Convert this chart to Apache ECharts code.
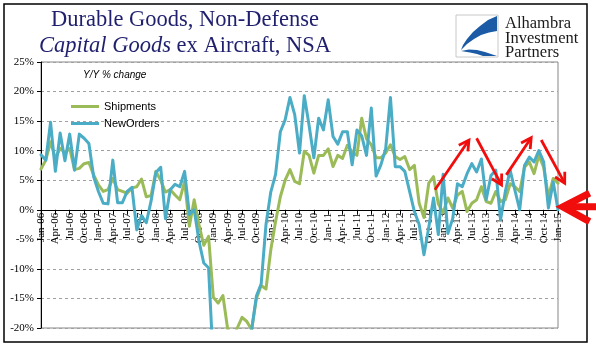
<!DOCTYPE html>
<html><head><meta charset="utf-8">
<script src="https://cdn.jsdelivr.net/npm/echarts@6/dist/echarts.min.js"></script>
<style>html,body{margin:0;padding:0;background:#fff}#c{width:596px;height:358px}</style>
</head><body><div id="c"></div>
<script>
const months = [
'Jan-06','Feb-06','Mar-06','Apr-06','May-06','Jun-06','Jul-06','Aug-06','Sep-06','Oct-06','Nov-06','Dec-06',
'Jan-07','Feb-07','Mar-07','Apr-07','May-07','Jun-07','Jul-07','Aug-07','Sep-07','Oct-07','Nov-07','Dec-07',
'Jan-08','Feb-08','Mar-08','Apr-08','May-08','Jun-08','Jul-08','Aug-08','Sep-08','Oct-08','Nov-08','Dec-08',
'Jan-09','Feb-09','Mar-09','Apr-09','May-09','Jun-09','Jul-09','Aug-09','Sep-09','Oct-09','Nov-09','Dec-09',
'Jan-10','Feb-10','Mar-10','Apr-10','May-10','Jun-10','Jul-10','Aug-10','Sep-10','Oct-10','Nov-10','Dec-10',
'Jan-11','Feb-11','Mar-11','Apr-11','May-11','Jun-11','Jul-11','Aug-11','Sep-11','Oct-11','Nov-11','Dec-11',
'Jan-12','Feb-12','Mar-12','Apr-12','May-12','Jun-12','Jul-12','Aug-12','Sep-12','Oct-12','Nov-12','Dec-12',
'Jan-13','Feb-13','Mar-13','Apr-13','May-13','Jun-13','Jul-13','Aug-13','Sep-13','Oct-13','Nov-13','Dec-13',
'Jan-14','Feb-14','Mar-14','Apr-14','May-14','Jun-14','Jul-14','Aug-14','Sep-14','Oct-14','Nov-14','Dec-14',
'Jan-15'];

const shipments = [
6.9,8.4,11.5,8.7,10.4,9.6,10.4,6.8,7.0,7.8,8.0,5.9,
4.2,3.1,3.4,5.3,3.4,3.1,2.8,3.7,3.9,5.2,2.2,2.4,
6.5,5.0,3.0,3.4,2.5,1.7,4.8,-2.8,1.7,-2.5,-6.0,-4.5,
-14.8,-15.8,-14.5,-20.2,-22.0,-20.0,-18.2,-18.9,-20.3,-15.0,-12.8,-13.4,
-6.8,-2.0,2.2,5.0,6.8,4.8,4.4,9.9,9.2,6.2,9.2,9.2,
10.3,7.3,9.2,8.7,10.9,9.8,9.2,15.5,12.0,11.0,8.8,8.8,
9.6,11.0,9.0,8.5,9.0,6.8,7.5,1.1,-1.3,4.5,5.6,1.0,
-0.5,2.0,0.3,2.5,3.1,-0.3,1.1,1.7,3.9,1.4,1.1,3.1,
1.4,1.7,4.4,3.9,3.1,7.2,8.1,6.1,9.2,7.2,2.2,5.3,
4.5];

const newOrders = [
9.3,8.4,14.8,6.5,13.0,8.3,12.8,6.7,12.8,12.1,11.2,5.6,
3.1,1.1,1.0,8.4,1.2,1.2,3.1,3.8,-3.4,-1.0,-2.2,1.5,
6.3,7.2,-1.5,3.4,4.3,3.9,6.5,-0.8,0.0,-5.3,-9.0,-9.8,
-26,-27,-28,-29,-28,-27,-26,-24,-20.3,-14.6,-12.5,-2.5,
3.0,6.0,13.2,15.2,19.0,16.1,9.6,19.3,14.3,8.8,15.5,13.5,
18.6,12.4,11.1,13.2,13.2,7.6,13.5,12.5,9.2,17.2,5.7,7.6,
10.3,19.0,7.3,7.3,6.5,3.1,-0.3,-2.5,-7.6,-3.0,2.0,-4.2,
6.0,-4.0,-1.5,4.4,3.9,6.1,7.8,6.4,8.6,1.7,5.8,6.7,
-1.7,3.1,6.7,3.3,0.0,7.5,8.9,8.1,10.0,8.1,0.3,4.7,
0.0];

// annotation arrows in (month index, percent) space: [fromI, fromV, toI, toV]
const trendArrows = [[82.3,3.4,89.4,11.8],[91.0,12.1,96.2,4.2],[97.2,5.9,102.4,12.2],[104.5,11.8,109.4,4.5]];

const chart = echarts.init(document.getElementById('c'), null, {renderer:'canvas'});
const SERIF = 'Liberation Serif, Times New Roman, serif';
const SANS = 'Liberation Sans, Arial, sans-serif';
const NAVY = '#1f1f6e';
const GREEN = '#9bbb59', BLUE = '#4bacc6';

chart.setOption({
  animation:false,
  backgroundColor:'#ffffff',
  title:[
    {text:'Durable Goods, Non-Defense', left:185, top:9, padding:0, textAlign:'center',
     textStyle:{fontFamily:SERIF, fontSize:22.5, fontWeight:'normal', color:NAVY}},
    {text:'{i|Capital Goods} ex Aircraft, NSA', left:185, top:35, padding:0, textAlign:'center',
     textStyle:{fontFamily:SERIF, fontSize:22.5, fontWeight:'normal', color:NAVY,
       rich:{i:{fontFamily:SERIF, fontSize:22.5, fontStyle:'italic', color:NAVY}}}},
    {text:'Y/Y % change', left:83, top:70, padding:0,
     textStyle:{fontFamily:SANS, fontSize:10, fontStyle:'italic', fontWeight:'normal', color:'#000'}}
  ],
  legend:{orient:'vertical', left:71, top:101, padding:0, itemWidth:28, itemHeight:14, itemGap:6,
    icon:'path://M0,0 L28,0 L28,3 L0,3 Z', symbolKeepAspect:true,
    textStyle:{fontFamily:SANS, fontSize:11, color:'#000'},
    data:['Shipments','NewOrders']},
  grid:[
    {left:41, right:38, top:62, bottom:30, show:true, borderColor:'#868686', borderWidth:1,
     containLabel:false, outerBoundsMode:'none'},
    {left:41, right:38, top:62, bottom:148.2, show:false, containLabel:false, outerBoundsMode:'none'}
  ],
  xAxis:[
    {type:'category', gridIndex:0, data:months, boundaryGap:false,
     axisLine:{onZero:true, lineStyle:{color:'#000', width:1}},
     axisTick:{show:false}, axisLabel:{show:false}, splitLine:{show:false}},
    {type:'category', gridIndex:1, data:months, boundaryGap:false, position:'bottom',
     axisLine:{show:false, onZero:false},
     axisTick:{show:true, interval:2, length:5, lineStyle:{color:'#000'}},
     axisLabel:{interval:2, rotate:90, margin:3, fontFamily:SERIF, fontSize:11, color:'#000', hideOverlap:false},
     splitLine:{show:false}}
  ],
  yAxis:[
    {type:'value', gridIndex:0, min:-20, max:25, interval:5,
     axisLine:{show:true, lineStyle:{color:'#000', width:1}},
     axisTick:{show:true, length:4, lineStyle:{color:'#000'}},
     axisLabel:{formatter:'{value}%', margin:7, fontFamily:SERIF, fontSize:11, color:'#000'},
     splitLine:{show:true, lineStyle:{type:[3,3], color:'#a0a0a0', width:1}}},
    {type:'value', gridIndex:1, min:0, max:1, show:false}
  ],
  series:[
    {name:'Shipments', type:'line', xAxisIndex:0, yAxisIndex:0, data:shipments, symbol:'none', showSymbol:false, clip:true, z:2,
     lineStyle:{width:3, color:GREEN, join:'round', cap:'round'}, itemStyle:{color:GREEN}},
    {name:'NewOrders', type:'line', xAxisIndex:0, yAxisIndex:0, data:newOrders, symbol:'none', showSymbol:false, clip:true, z:3,
     lineStyle:{width:3, color:BLUE, join:'round', cap:'round'}, itemStyle:{color:BLUE}}
  ]
});

// align the label axis exactly with the 0% line of the main grid
const zeroY = chart.convertToPixel({yAxisIndex:0}, 0);
chart.setOption({grid:[{}, {bottom: 358 - zeroY}]});

function px(i, v){
  const n = months.length - 1;
  const a = chart.convertToPixel({xAxisIndex:0, yAxisIndex:0}, [0, v]);
  const b = chart.convertToPixel({xAxisIndex:0, yAxisIndex:0}, [n, v]);
  return [a[0] + (b[0]-a[0]) * i / n, a[1]];
}
function vArrow(p0, p1, w, hl, hw, color){
  const dx = p1[0]-p0[0], dy = p1[1]-p0[1], L = Math.hypot(dx,dy);
  const ux = dx/L, uy = dy/L;
  const bx = p1[0]-ux*hl, by = p1[1]-uy*hl;
  return [
    {type:'line', z:50, shape:{x1:p0[0], y1:p0[1], x2:p1[0]-ux*1.5, y2:p1[1]-uy*1.5}, style:{stroke:color, lineWidth:w, lineCap:'butt'}},
    {type:'polyline', z:50, shape:{points:[[bx-uy*hw, by+ux*hw],[p1[0],p1[1]],[bx+uy*hw, by-ux*hw]]},
     style:{stroke:color, lineWidth:w, fill:null, lineJoin:'miter', lineCap:'butt'}}
  ];
}
const RED = '#f20d0d';
let g = [];
trendArrows.forEach(a => { g = g.concat(vArrow(px(a[0],a[1]), px(a[2],a[3]), 2.8, 10, 5.5, RED)); });
// big arrow pointing at the zero line
const tip = px(109.0, 0.5), armU = px(114.6, 2.8), armD = px(114.6, -2.0), tail = px(117, 0.5);
g.push({type:'polyline', z:50, shape:{points:[armU, tip, armD]}, style:{stroke:RED, lineWidth:7, fill:null, lineJoin:'miter'}});
g.push({type:'line', z:50, shape:{x1:tip[0]+3, y1:tip[1], x2:tail[0], y2:tail[1]}, style:{stroke:RED, lineWidth:7}});
// outer frame
g.push({type:'rect', z:40, shape:{x:4, y:4, width:583, height:338}, style:{stroke:'#000', lineWidth:1.5, fill:null}});
// logo
g.push({type:'rect', z:40, shape:{x:456, y:15, width:42, height:42}, style:{stroke:'#c8c8c8', lineWidth:1, fill:'#fff'}});
g.push({type:'polygon', z:41, shape:{points:[[497,16],[497,31],[489,32.5],[481,35],[474,39],[467,44],[461,50],[463,45],[467,39],[473,32],[480,26],[488,20]]}, style:{fill:'#1b5ba6'}});
g.push({type:'polygon', z:41, shape:{points:[[461,51],[469,49.5],[477,50],[485,52],[491,54],[497,56],[483,56],[477,54],[470,52.5]]}, style:{fill:'#1b5ba6'}});
['Alhambra','Investment','Partners'].forEach((t,k) => {
  g.push({type:'text', z:41, x:505, y:24 + k*14.5, style:{text:t, font:'16.5px "Liberation Serif"', fill:'#1a1a1a', verticalAlign:'middle', textVerticalAlign:'middle'}});
});
chart.setOption({graphic:g});
</script></body></html>
